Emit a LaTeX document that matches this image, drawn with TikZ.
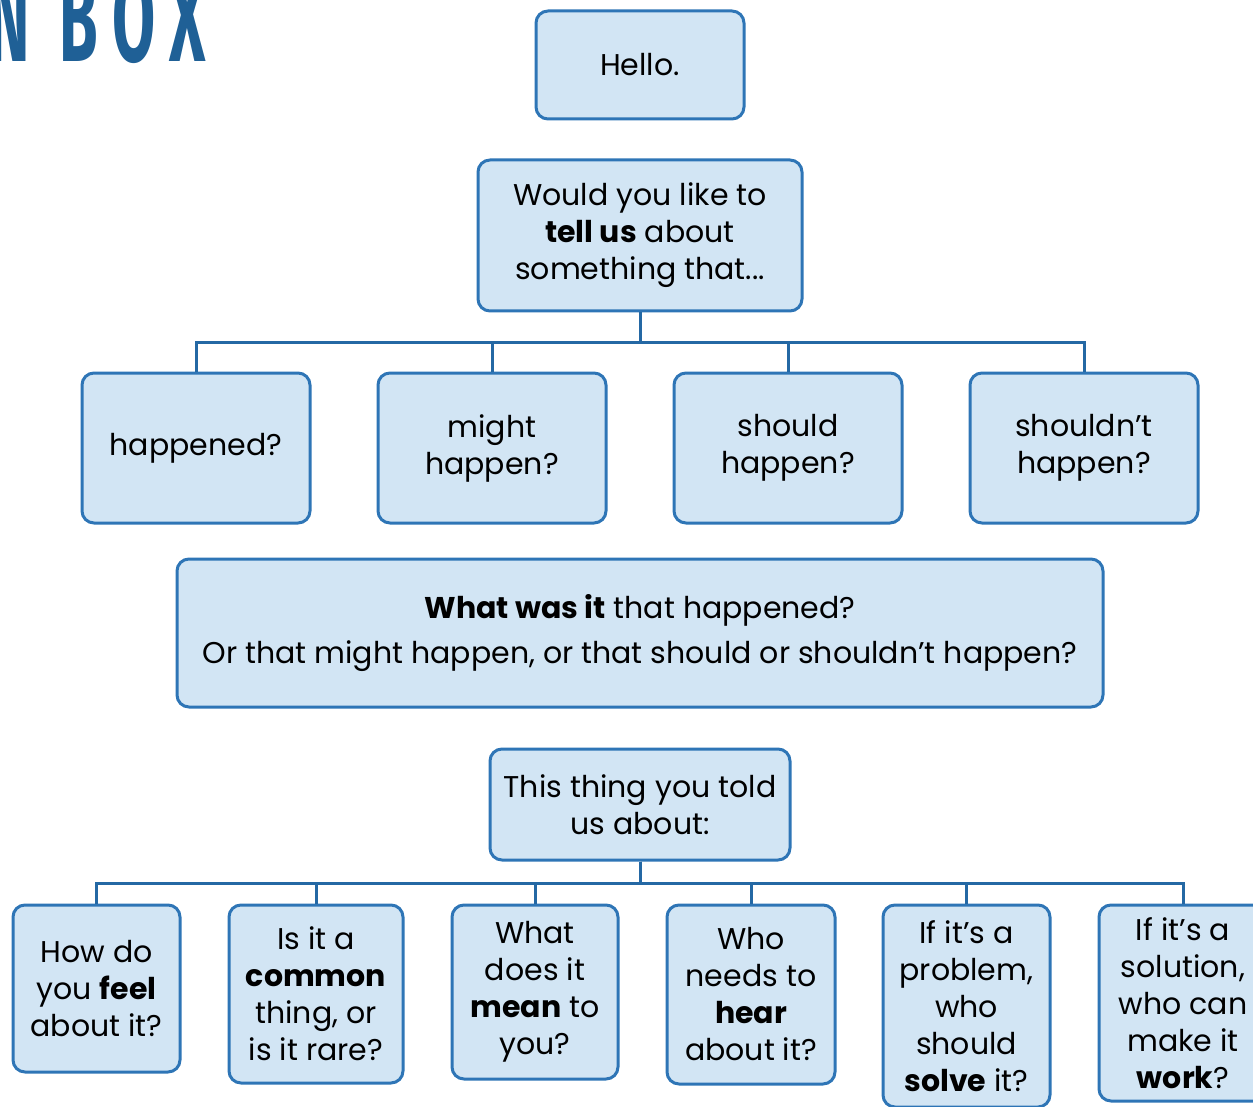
\documentclass[tikz,border=0pt]{standalone}
\usepackage{fontspec}
\setmainfont{Poppins}
\newfontfamily\titlefont[LetterSpace=24]{Fira Sans}
\definecolor{edgeblue}{HTML}{2E75B6}
\definecolor{boxfill}{HTML}{D2E5F4}
\definecolor{linkblue}{HTML}{2468A4}
\definecolor{titleblue}{HTML}{1F6096}
\begin{document}
\begin{tikzpicture}[x=1pt,y=-1pt,
  card/.style={draw=edgeblue, fill=boxfill, line width=3pt, rounded corners=12pt,
    align=center, inner sep=0pt, font=\fontsize{30}{37}\selectfont},
  link/.style={draw=linkblue, line width=3pt}]
\useasboundingbox (0,0) rectangle (1253,1107);
\clip (0,0) rectangle (1253,1107);

% heading, running off the top-left corner
\node[anchor=base west, text=titleblue, inner sep=0pt, xscale=0.5,
  font=\titlefont\bfseries\fontsize{125}{125}\selectfont] (heading) at (-12,62) {N BOX};

% opening prompts
\node[card, minimum width=208, minimum height=108] (hello) at (640,65) {Hello.};
\node[card, minimum width=324, minimum height=151] (tell) at (640,235.5)
  {Would you like to\\\textbf{tell us} about\\something that...};

% what kind of thing
\node[card, minimum width=228, minimum height=150] (ka) at (196,448) {happened?};
\node[card, minimum width=228, minimum height=150] (kb) at (492,448) {might\\happen?};
\node[card, minimum width=228, minimum height=150] (kc) at (788,448) {should\\happen?};
\node[card, minimum width=228, minimum height=150] (kd) at (1084,448) {shouldn\char"27t\\happen?};

\node[card, minimum width=926, minimum height=148] (what) at (640,633)
  {\textbf{What was it} that happened?\\[8pt]Or that might happen, or that should or shouldn’t happen?};

\node[card, minimum width=300, minimum height=111] (thing) at (640,804.5)
  {This thing you told\\us about:};

% follow-up questions
\node[card, minimum width=167, minimum height=167] (qa) at (96.5,988.5)
  {How do\\you \textbf{feel}\\about it?};
\node[card, minimum width=174, minimum height=178] (qb) at (316,994)
  {Is it a\\\textbf{common}\\thing, or\\is it rare?};
\node[card, minimum width=166, minimum height=174] (qc) at (535,992)
  {What\\does it\\\textbf{mean} to\\you?};
\node[card, minimum width=168, minimum height=179] (qd) at (751,994.5)
  {Who\\needs to\\\textbf{hear}\\about it?};
\node[card, minimum width=167, minimum height=202] (qe) at (966.5,1006)
  {If it’s a\\problem,\\who\\should\\\textbf{solve} it?};
\node[card, minimum width=168, minimum height=196] (qf) at (1183,1003)
  {If it’s a\\solution,\\who can\\make it\\\textbf{work}?};

% connectors
\coordinate (busA) at (640,342);
\coordinate (busB) at (640,883);
\foreach \n in {ka,kb,kc,kd}
  \draw[link] (tell.south) -- (busA) -| (\n.north);
\foreach \n in {qa,qb,qc,qd,qe,qf}
  \draw[link] (thing.south) -- (busB) -| (\n.north);
\end{tikzpicture}
\end{document}
